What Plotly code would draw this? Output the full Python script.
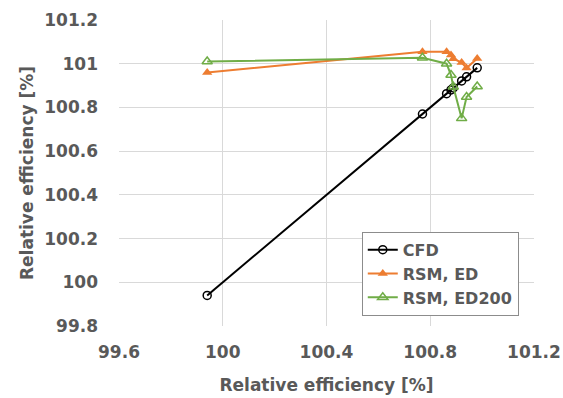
import plotly.graph_objects as go

# Data
cfd_x = [99.94, 100.77, 100.863, 100.88, 100.889, 100.921, 100.94, 100.981]
cfd_y = [99.94, 100.77, 100.863, 100.88, 100.889, 100.921, 100.94, 100.981]

rsm_ed_x = [99.94, 100.77, 100.863, 100.88, 100.889, 100.921, 100.94, 100.981]
rsm_ed_y = [100.96, 101.055, 101.055, 101.04, 101.023, 101.005, 100.98, 101.024]

rsm_ed200_x = [99.94, 100.77, 100.863, 100.88, 100.889, 100.921, 100.94, 100.981]
rsm_ed200_y = [101.01, 101.027, 101.0, 100.948, 100.895, 100.75, 100.848, 100.896]

x_ticks = [99.6, 100, 100.4, 100.8, 101.2]
y_ticks = [99.8, 100, 100.2, 100.4, 100.6, 100.8, 101, 101.2]

GRAY = "#595959"
FONT = "DejaVu Sans"

fig = go.Figure()
fig.add_trace(go.Scatter(
    x=cfd_x, y=cfd_y, name="CFD", mode="lines+markers",
    line=dict(color="black", width=2),
    marker=dict(symbol="circle-open", size=8, color="black", line=dict(width=1.5)),
))
fig.add_trace(go.Scatter(
    x=rsm_ed_x, y=rsm_ed_y, name="RSM, ED", mode="lines+markers",
    line=dict(color="#ED7D31", width=2),
    marker=dict(symbol="triangle-up", size=9, color="#ED7D31"),
))
fig.add_trace(go.Scatter(
    x=rsm_ed200_x, y=rsm_ed200_y, name="RSM, ED200", mode="lines+markers",
    line=dict(color="#70AD47", width=2),
    marker=dict(symbol="triangle-up-open", size=9, color="#70AD47", line=dict(width=1.5)),
))

fig.update_layout(
    width=563, height=398,
    margin=dict(l=119, r=29, t=20, b=72),
    paper_bgcolor="white", plot_bgcolor="white",
    font=dict(family=FONT, color=GRAY, size=16),
    showlegend=True,
    legend=dict(
        x=0.585, y=0.308, xanchor="left", yanchor="top",
        bgcolor="white", bordercolor="#8c8c8c", borderwidth=1,
        font=dict(family=FONT, size=16, color=GRAY, weight="bold"),
        tracegroupgap=0, itemwidth=30,
    ),
)
fig.update_xaxes(
    range=[99.6, 101.2], tickvals=x_ticks, ticktext=[f"{v:g}" for v in x_ticks],
    showgrid=True, gridcolor="#D9D9D9", gridwidth=1, automargin=False,
    zeroline=False, showline=False, ticks="", ticklabelstandoff=14,
    tickfont=dict(family=FONT, size=17, color=GRAY, weight="bold"),
    title=dict(text="Relative efficiency [%]", standoff=18,
               font=dict(family=FONT, size=17, color=GRAY, weight="bold")),
)
fig.update_yaxes(
    range=[99.8, 101.2], tickvals=y_ticks, ticktext=[f"{v:g}" for v in y_ticks],
    showgrid=True, gridcolor="#D9D9D9", gridwidth=1, automargin=False,
    zeroline=False, showline=False, ticks="", ticklabelstandoff=20,
    tickfont=dict(family=FONT, size=17, color=GRAY, weight="bold"),
    title=dict(text="Relative efficiency [%]", standoff=6,
               font=dict(family=FONT, size=17, color=GRAY, weight="bold")),
)
fig.write_html("out.html")
